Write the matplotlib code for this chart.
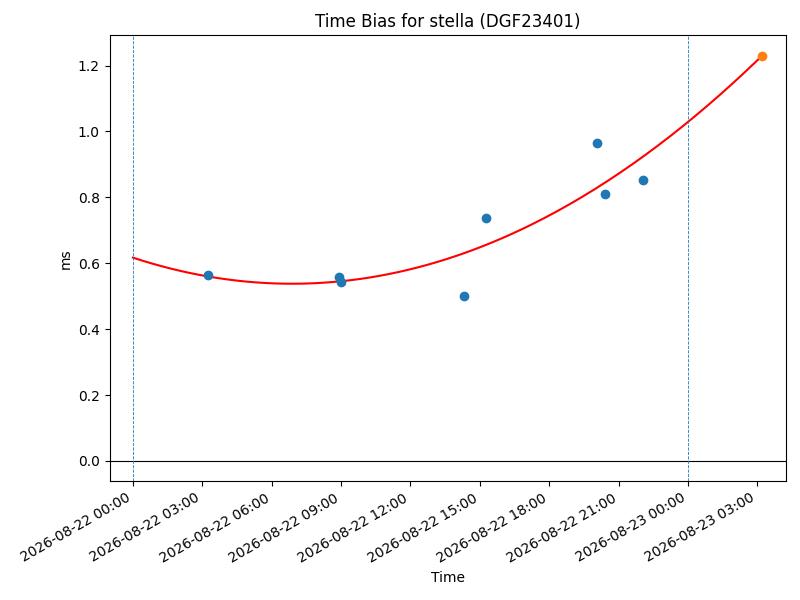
import numpy as np
import pandas as pd
import matplotlib
matplotlib.use('Agg')
import matplotlib.pyplot as plt
import matplotlib.dates as mdates

t0 = pd.Timestamp('2026-08-22 00:00')
# measurement times (hours after t0) and bias in ms
hours = [3.25, 8.90, 9.00, 14.31, 15.26, 20.07, 20.40, 22.04]
bias = [0.564, 0.559, 0.543, 0.501, 0.737, 0.965, 0.810, 0.853]
pred_hour = 27.2
pred_bias = 1.230

times = [t0 + pd.Timedelta(hours=h) for h in hours]
pred_time = t0 + pd.Timedelta(hours=pred_hour)

# quadratic fit through the measurements
coef = np.polyfit(hours, bias, 2)
hh = np.linspace(0, pred_hour, 200)
fit_times = [t0 + pd.Timedelta(hours=h) for h in hh]

fig, ax = plt.subplots(figsize=(8, 6), dpi=100)
ax.plot(fit_times, np.polyval(coef, hh), color='red')
ax.scatter(times, bias, color='#1f77b4', zorder=3)
ax.scatter([pred_time], [pred_bias], color='#ff7f0e', zorder=3)
ax.axhline(0, color='black', lw=0.8)
ax.axvline(t0, ls='--', lw=0.6, color='#1f77b4')
ax.axvline(t0 + pd.Timedelta(days=1), ls='--', lw=0.6, color='#1f77b4')

ax.xaxis.set_major_locator(mdates.HourLocator(byhour=range(0, 24, 3)))
ax.xaxis.set_major_formatter(mdates.DateFormatter('%Y-%m-%d %H:%M'))
ax.set_xlim(t0 - pd.Timedelta(hours=1.01), t0 + pd.Timedelta(hours=28.22))
ax.set_xlabel('Time')
ax.set_ylabel('ms')
ax.set_title('Time Bias for stella (DGF23401)')
fig.autofmt_xdate()
fig.subplots_adjust(left=0.137, right=0.982, top=0.941, bottom=0.198)
fig.savefig('out.png')
